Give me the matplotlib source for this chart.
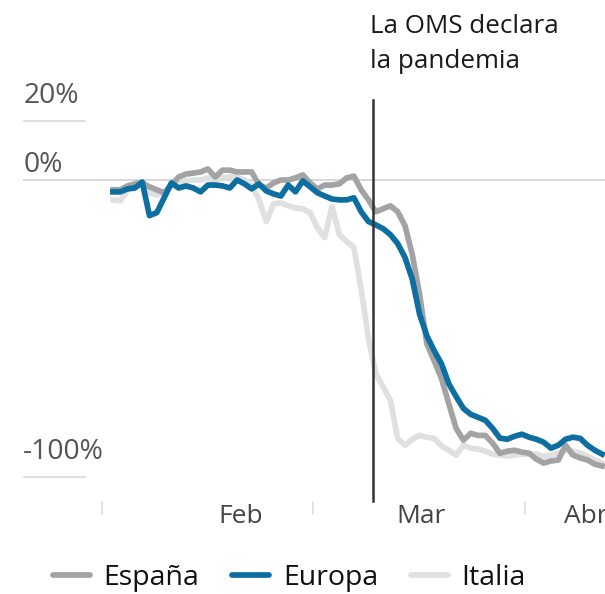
import numpy as np
import matplotlib
matplotlib.use("Agg")
import matplotlib.pyplot as plt
from matplotlib.lines import Line2D

plt.rcParams["font.family"] = ["Open Sans", "DejaVu Sans"]

# ── DATA (variación de movilidad, % frente a la referencia) ──────────────────
espana = [-3.3, -3.3, -2.0, -1.3, -1.0, -2.3, -3.3, -4.3, -1.7, 1.0,
          2.0, 2.3, 2.7, 3.7, 1.0, 3.3, 3.3, 2.7, 2.7, 2.7,
          -1.7, -2.7, -1.0, 0.0, 0.0, 0.7, 1.7, -1.0, -3.0, -1.7,
          -1.7, -1.3, 0.7, 1.3, -3.3, -6.7, -10.7, -9.7, -8.7, -10.7,
          -15.4, -25.1, -38.5, -55.2, -60.9, -66.9, -75.3, -83.6, -87.6, -85.3,
          -86.0, -86.0, -88.6, -92.0, -91.3, -91.0, -91.6, -92.0, -94.0, -95.3,
          -94.6, -94.3, -89.3, -92.6, -93.6, -94.3, -95.7, -96.3]

europa = [-4.0, -4.0, -3.0, -2.7, -0.7, -12.0, -11.0, -6.0, -1.0, -2.7,
          -2.0, -2.7, -4.0, -1.7, -1.7, -2.0, -2.7, 0.0, -1.3, -3.0,
          -1.3, -3.7, -4.7, -5.4, -1.7, -4.0, -0.3, -2.3, -4.3, -5.4,
          -6.4, -6.7, -6.7, -6.0, -10.7, -14.0, -15.1, -16.4, -18.4, -21.4,
          -26.1, -33.4, -45.2, -52.5, -57.5, -61.9, -68.6, -72.9, -76.9, -78.9,
          -79.9, -80.9, -83.6, -86.9, -87.3, -86.3, -85.6, -86.6, -87.3, -88.3,
          -90.3, -89.3, -87.3, -86.6, -87.0, -89.3, -91.0, -92.3]

italia = [-6.7, -7.0, -3.3, -2.0, -1.3, -4.3, -5.0, -4.3, -1.7, -0.7,
          -0.3, 0.0, 0.0, 0.7, -0.3, 0.7, 1.0, 1.0, 0.0, -1.7,
          -6.7, -14.0, -8.0, -7.7, -8.7, -9.4, -9.7, -11.0, -16.1, -19.4,
          -9.0, -18.4, -20.7, -22.7, -36.8, -53.5, -65.2, -69.6, -74.2, -87.0,
          -89.3, -87.3, -86.0, -86.6, -87.0, -89.6, -91.0, -92.6, -89.3, -90.3,
          -90.6, -91.3, -92.3, -92.6, -93.0, -92.6, -92.3, -92.3, -92.3, -93.0,
          -92.6, -92.0, -91.0, -91.3, -92.0, -93.0, -94.3, -95.3]

days = np.arange(len(europa))

y_ticks = [20, 0, -100]
y_labels = ["20%", "0%", "-100%"]
y_label_base = [25.9, 2.7, -93.9]     # labels sit above their gridline
x_ticks = [-1.5, 27.4, 56.4]
month_pos = [17.5, 42.2, 61.8]
month_labels = ["Feb", "Mar", "Abr"]
oms_day = 35.6

# ── STYLE ────────────────────────────────────────────────────────────────────
C_ESP = "#a3a3a3"
C_EUR = "#0d6ea2"
C_ITA = "#e0e0e0"
LW = 4.1

fig = plt.figure(figsize=(6.05, 5.94), dpi=100)
ax = fig.add_axes([0, 0, 1, 1])
ax.set_xlim(-15.48, 67.4)
ax.set_ylim(-139.4, 60.6)
ax.axis("off")

# gridlines: 0% runs across, the others are short stubs under their labels
ax.plot([-12.2, 67.4], [0, 0], color="#d4d4d4", lw=1.3, zorder=1)
for v in (20, -100):
    ax.plot([-12.2, -3.84], [v, v], color="#dcdcdc", lw=1.3, zorder=1)

for yb, lab in zip(y_label_base, y_labels):
    ax.text(-12.3, yb, lab, fontsize=20.3, color="#555555",
            ha="left", va="baseline")

# x ticks and month labels
for t in x_ticks:
    ax.plot([t, t], [-108.5, -112.5], color="#dddddd", lw=1.2)
for p, lab in zip(month_pos, month_labels):
    ax.text(p, -115.5, lab, fontsize=19, color="#444444",
            ha="center" if lab != "Abr" else "left", va="baseline")

# series
ax.plot(days, italia, color=C_ITA, lw=LW, solid_joinstyle="round", zorder=2)
ax.plot(days, espana, color=C_ESP, lw=LW, solid_joinstyle="round", zorder=3)
ax.plot(days, europa, color=C_EUR, lw=LW, solid_joinstyle="round", zorder=4)

# WHO pandemic declaration
ax.plot([oms_day, oms_day], [26.9, -108.0], color="#333333", lw=1.8, zorder=5)
ax.text(oms_day - 0.4, 49.5, "La OMS declara", fontsize=18.7,
        color="#1a1a1a", ha="left", va="baseline")
ax.text(oms_day - 0.4, 37.7, "la pandemia", fontsize=18.7,
        color="#1a1a1a", ha="left", va="baseline")

# legend
handles = [Line2D([], [], color=C_ESP, lw=LW, solid_capstyle="round"),
           Line2D([], [], color=C_EUR, lw=LW, solid_capstyle="round"),
           Line2D([], [], color=C_ITA, lw=LW, solid_capstyle="round")]
fig.legend(handles, ["España", "Europa", "Italia"], ncol=3, frameon=False,
           loc="center left", bbox_to_anchor=(53 / 605, 1 - 578 / 594),
           fontsize=20.5, handlelength=1.3, handletextpad=0.48,
           columnspacing=1.15, borderpad=0, borderaxespad=0,
           labelcolor="#111111")

fig.savefig("out.png", dpi=100)
